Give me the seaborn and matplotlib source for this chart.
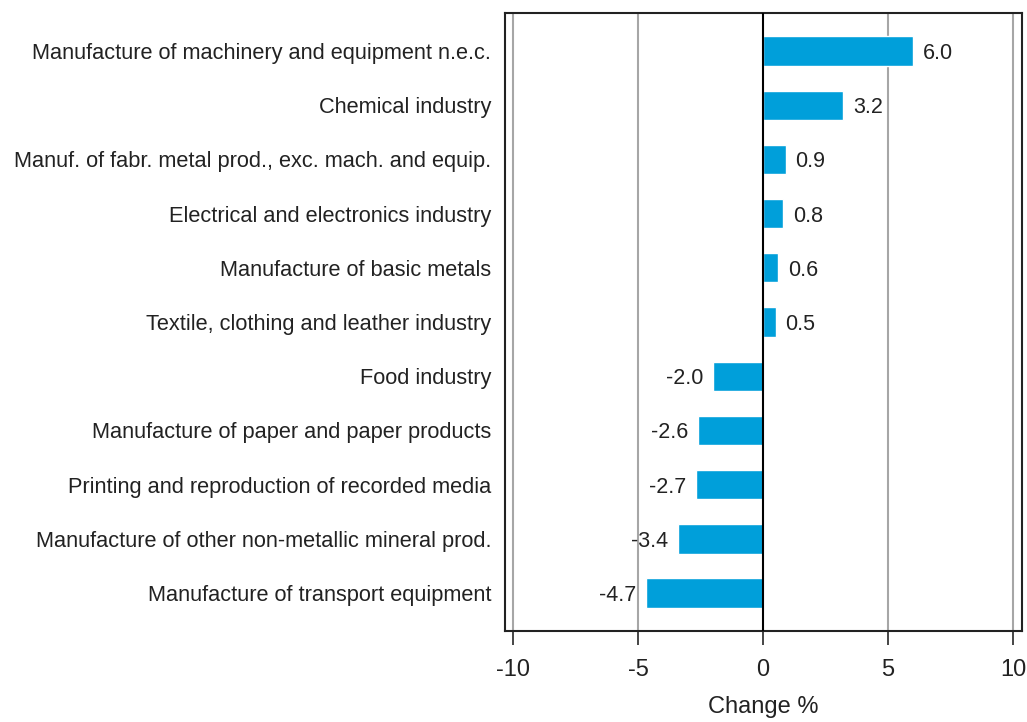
import matplotlib
matplotlib.use('Agg')
import matplotlib.pyplot as plt
import pandas as pd
import seaborn as sns

industries = [
    'Manufacture of machinery and equipment n.e.c.',
    'Chemical industry',
    'Manuf. of fabr. metal prod., exc. mach. and equip.',
    'Electrical and electronics industry',
    'Manufacture of basic metals',
    'Textile, clothing and leather industry',
    'Food industry',
    'Manufacture of paper and paper products',
    'Printing and reproduction of recorded media',
    'Manufacture of other non-metallic mineral prod.',
    'Manufacture of transport equipment',
]
change = [6.0, 3.2, 0.9, 0.8, 0.6, 0.5, -2.0, -2.6, -2.7, -3.4, -4.7]
xticks = [-10, -5, 0, 5, 10]

df = pd.DataFrame({'industry': industries, 'change': change})

sns.set_style('white')
plt.rcParams['font.family'] = ['Liberation Sans', 'DejaVu Sans']

fig = plt.figure(figsize=(10.27, 7.22), dpi=100)
ax = fig.add_axes([0.4917, 0.126, 0.5034, 0.856])

# gridlines behind bars
for x in xticks:
    if x != 0:
        ax.axvline(x, color='#a6a6a6', linewidth=1.5, zorder=0)
ax.axvline(0, color='black', linewidth=1.5, zorder=3)

sns.barplot(data=df, x='change', y='industry', orient='h', color='#009fda',
            saturation=1, width=0.54, ax=ax, zorder=2)

for cont in ax.containers:
    texts = ax.bar_label(cont, labels=[f'{v:.1f}' for v in change], padding=7,
                         fontsize=15.5, color='#222222')
    for t in texts:
        t.set_va('center_baseline')

ax.set_xlim(-10.33, 10.36)
ax.set_ylim(10.7, -0.7)
ax.set_xticks(xticks)
ax.set_xticklabels([str(t) for t in xticks], fontsize=17)
ax.tick_params(axis='x', direction='out', length=10, width=1.2, pad=10, bottom=True,
               labelcolor='#222222')
ax.tick_params(axis='y', length=0, pad=10, labelsize=15.7, labelcolor='#222222')
ax.set_ylabel('')
ax.set_xlabel('Change %', fontsize=17, labelpad=11, color='#222222')

for s in ax.spines.values():
    s.set_color('#222222')
    s.set_linewidth(1.5)

fig.savefig('out.png', dpi=100)
